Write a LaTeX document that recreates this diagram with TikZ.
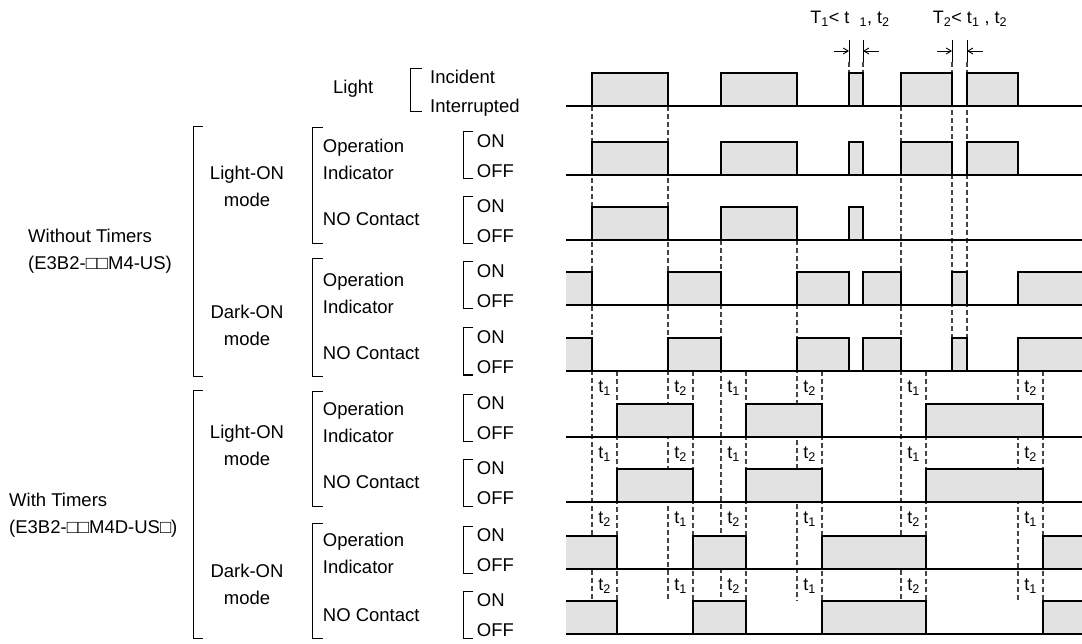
\documentclass[tikz,border=0pt]{standalone}
\usepackage{fontspec}
\setmainfont{Liberation Sans}
\usetikzlibrary{arrows.meta}

\begin{document}
\begin{tikzpicture}[x=1pt, y=-1pt,
    txt/.style={font=\fontsize{18.5}{27}\selectfont, inner sep=0pt, anchor=base west},
    tlab/.style={font=\fontsize{18}{18}\selectfont, inner sep=0pt},
    eje/.style={line width=1.2pt},
    pulso/.style={draw, line width=1.2pt, fill=cPulso},
    guia/.style={draw=cGuia, line width=1.2pt, dash pattern=on 5pt off 3pt},
    llave/.style={line width=1pt},
    flecha/.style={-{Straight Barb[length=5pt,width=6pt]}, line width=0.9pt}]

\definecolor{cPulso}{HTML}{E2E2E2}
\definecolor{cGuia}{HTML}{444444}

\pgfmathsetmacro{\h}{33}
\pgfmathsetmacro{\xi}{566}
\pgfmathsetmacro{\xf}{1082}

\pgfmathsetmacro{\yL}{106}
\pgfmathsetmacro{\yA}{175}
\pgfmathsetmacro{\yB}{240}
\pgfmathsetmacro{\yC}{305}
\pgfmathsetmacro{\yD}{371}
\pgfmathsetmacro{\yE}{437}
\pgfmathsetmacro{\yF}{502}
\pgfmathsetmacro{\yG}{569}
\pgfmathsetmacro{\yH}{634}

\useasboundingbox (0,0) rectangle (1082,644);

% LINEAS GUIA (discontinuas)
\foreach \x in {592,668,901} \draw[guia] (\x,\yL) -- (\x,\yH-\h);
\foreach \x in {721,797} \draw[guia] (\x,\yB) -- (\x,\yH-\h);
\foreach \x in {952,967} \draw[guia] (\x,62) -- (\x,\yD-\h);
\foreach \x in {849,863} \draw[guia] (\x,62) -- (\x,\yL-\h);
\foreach \x in {617,693,746,822,926,1018,1043} \draw[guia] (\x,\yD) -- (\x,\yH-\h);

% Luz + modo Light-ON sin temporizador
\foreach \y in {\yL,\yA}
  \foreach \a/\b in {592/668,721/797,849/863,901/952,967/1018}
    \draw[pulso] (\a,\y) rectangle (\b,\y-\h);
\foreach \a/\b in {592/668,721/797,849/863}
  \draw[pulso] (\a,\yB) rectangle (\b,\yB-\h);

% Modo Dark-ON sin temporizador
\foreach \y in {\yC,\yD} {
  \fill[cPulso] (\xi,\y) rectangle (592,\y-\h);
  \draw[eje] (\xi,\y-\h) -| (592,\y);
  \foreach \a/\b in {668/721,797/849,863/901,952/967}
    \draw[pulso] (\a,\y) rectangle (\b,\y-\h);
  \draw[pulso] (1018,\y) rectangle (1090,\y-\h);
}

% Con temporizadores
\foreach \y in {\yE,\yF}
  \foreach \a/\b in {617/693,746/822,926/1043}
    \draw[pulso] (\a,\y) rectangle (\b,\y-\h);
\foreach \y in {\yG,\yH} {
  \fill[cPulso] (\xi,\y) rectangle (617,\y-\h);
  \draw[eje] (\xi,\y-\h) -| (617,\y);
  \foreach \a/\b in {693/746,822/926}
    \draw[pulso] (\a,\y) rectangle (\b,\y-\h);
  \draw[pulso] (1043,\y) rectangle (1090,\y-\h);
}

% Ejes
\foreach \y in {\yL,\yA,\yB,\yC,\yD,\yE,\yF,\yG,\yH}
  \draw[eje] (\xi,\y) -- (\xf,\y);

% Etiquetas t1 / t2
\foreach \y/\p/\q [count=\r] in {\yD/1/2, \yE/1/2, \yF/2/1, \yG/2/1}
  \foreach \x/\k [count=\c] in {592/\p, 668/\q, 721/\p, 797/\q, 901/\p, 1018/\q}
    \node[tlab] (t\r\c) at (\x+12.5,\y+17) {t\textsubscript{\k}};

% Marcas T1, T2
\foreach \a/\b [count=\i] in {849/863, 952/967} {
  \draw[llave] (\a,40) -- (\a,62);
  \draw[llave] (\b,40) -- (\b,62);
  \coordinate (ma\i) at (\a,51);
  \coordinate (mb\i) at (\b,51);
  \coordinate (na\i) at (\a-15,51);
  \coordinate (nb\i) at (\b+16,51);
  \draw[flecha] (na\i) -- (ma\i);
  \draw[flecha] (nb\i) -- (mb\i);
}
\node[tlab] (T1) at (850,19) {T\textsubscript{1}< t \ \textsubscript{1}, t\textsubscript{2}};
\node[tlab] (T2) at (970,19) {T\textsubscript{2}< t\textsubscript{1} , t\textsubscript{2}};

% Luz
\node[txt] (luz) at (333,93.3) {Light};
\draw[llave] (421.7,68.3) -| (410.7,111.7) -- (421.7,111.7);
\node[txt] (inc) at (430,83.3) {Incident};
\node[txt] (int) at (430,112.3) {Interrupted};

% Sin temporizadores
\node[txt, align=left] (sinT) at (28,269.6) {Without Timers\\(E3B2-□□M4-US)};
\draw[llave] (203,127) -| (193,376) -- (203,376);
\node[txt, anchor=base, align=center] (lonA) at (247,206.6) {Light-ON\\mode};
\draw[llave] (323,128) -| (312,244) -- (323,244);
\node[txt, align=left] (oiA) at (322.7,179.6) {Operation\\Indicator};
\node[txt] (noA) at (322.7,225.6) {NO Contact};
\node[txt, anchor=base, align=center] (donA) at (247,345.6) {Dark-ON\\mode};
\draw[llave] (323,259) -| (312,376) -- (323,376);
\node[txt, align=left] (oiB) at (322.7,313.3) {Operation\\Indicator};
\node[txt] (noB) at (322.7,359.3) {NO Contact};

% Con temporizadores
\node[txt, align=left] (conT) at (9,533.3) {With Timers\\(E3B2-□□M4D-US□)};
\draw[llave] (203,390) -| (193,638) -- (203,638);
\node[txt, anchor=base, align=center] (lonB) at (247,465.6) {Light-ON\\mode};
\draw[llave] (323,391) -| (312,506) -- (323,506);
\node[txt, align=left] (oiC) at (322.7,442.3) {Operation\\Indicator};
\node[txt] (noC) at (322.7,488.3) {NO Contact};
\node[txt, anchor=base, align=center] (donB) at (247,604.6) {Dark-ON\\mode};
\draw[llave] (323,523) -| (312,638) -- (323,638);
\node[txt, align=left] (oiD) at (322.7,573.9) {Operation\\Indicator};
\node[txt] (noD) at (322.7,621.6) {NO Contact};

% ON / OFF
\foreach \y [count=\i] in {\yA,\yB,\yC,\yD,\yE,\yF,\yG,\yH} {
  \draw[llave] (473,\y-43) -| (463,\y+4) -- (473,\y+4);
  \node[txt] (on\i) at (476.7,\y-27.4) {ON};
  \node[txt] (off\i) at (476.7,\y+2.6) {OFF};
}

\end{tikzpicture}
\end{document}
